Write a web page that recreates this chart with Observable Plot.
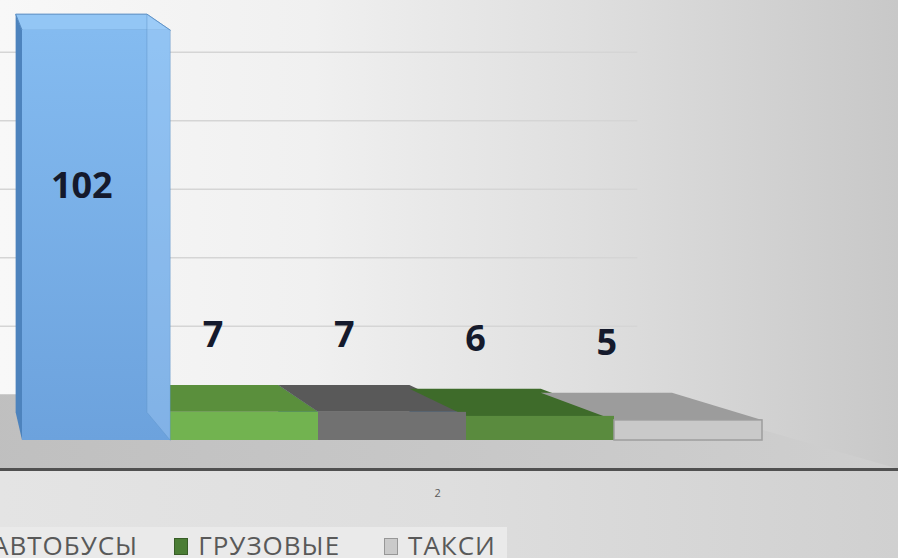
<!DOCTYPE html>
<html>
<head>
<meta charset="utf-8">
<script src="https://cdn.jsdelivr.net/npm/d3@7"></script>
<script src="https://cdn.jsdelivr.net/npm/@observablehq/plot@0.6"></script>
<style>
  html, body { margin: 0; padding: 0; width: 898px; height: 558px; overflow: hidden; }
  #root { position: relative; width: 898px; height: 558px; overflow: hidden;
    background: linear-gradient(to right, #f8f8f8 0%, #f0f0f0 35%, #dfdfdf 65%, #c8c8c8 100%); }
  #lower { position: absolute; left: 0; top: 470px; width: 898px; height: 88px;
    background: linear-gradient(to right, #e4e4e4 0%, #dedede 50%, #d0d0d0 100%); }
  #chart { position: absolute; left: 0; top: 0; }
  #chart svg { overflow: hidden; display: block; }
  #legend { position: absolute; left: 0; top: 527px; width: 507px; height: 31px; background: #eaeaea; overflow: hidden; }
  #legend .row { position: absolute; left: -32px; top: 0; height: 31px; display: flex; align-items: flex-start; gap: 44px; white-space: nowrap; }
  #legend .item { display: flex; align-items: flex-start; gap: 10px; }
  #legend .item:first-child { margin-right: -8px; }
  #legend .sw { width: 14px; height: 17px; margin-top: 11px; box-sizing: border-box; border: 1px solid rgba(0,0,0,0.25); }
  #legend .lab { font-family: "Open Sans", sans-serif; font-size: 26px; letter-spacing: 1px; color: #595959; line-height: 24px; margin-top: 6px; }
</style>
</head>
<body>
<div id="root">
  <div id="lower"></div>
  <div id="chart"></div>
  <div id="legend"><div class="row" id="legendRow"></div></div>
</div>
<script>
// ---- data ----
const category = "2";
// the first two legend entries are cropped out of the picture, so their names are unknown
const seriesNames = [null, null, "АВТОБУСЫ", "ГРУЗОВЫЕ", "ТАКСИ"];
const seriesValues = [102, 7, 7, 6, 5];
const gridValues = [20, 40, 60, 80, 100];

// ---- styles ----
const frontColors = ["url(#blueFront)", "#72b350", "#717171", "#5a8b3e", "#c9c9c9"];
const topColors = ["#93c6f5", "#5a8f3c", "#595959", "#3e6b2a", "#9c9c9c"];
const topStrokes = ["#5288c0", "none", "none", "none", "none"];
const frontStrokes = ["none", "none", "none", "none", "#9d9d9d"];
const legendColors = ["#78aee6", "#72b350", "#717171", "#4b7d35", "#cacaca"];

// ---- 3D projection (style constants, in scale units) ----
const barBack = {sx: 0.887, ox: -0.043, sy: 0.971, oy: 6.9};
const wall = {sx: 0.796, ox: -0.077, sy: 0.852, oy: 11.4};
const floorFront = {sx: 1.106, ox: 0.04, y: -7.2};
const floorSpan = [-0.32, seriesValues.length + 0.32];
const bx = x => barBack.sx * x + barBack.ox;
const by = v => barBack.sy * v + barBack.oy;
const wx = x => wall.sx * x + wall.ox;
const wy = v => wall.sy * v + wall.oy;
const fx = x => floorFront.sx * x + floorFront.ox;

const bars = seriesValues.map((v, i) => ({i, name: seriesNames[i], v, x1: i, x2: i + 1}));
const topFaces = bars.flatMap(b => [
  {i: b.i, y: b.v, x1: b.x1, x2: b.x2},
  {i: b.i, y: by(b.v), x1: bx(b.x1), x2: bx(b.x2)}
]);
const leftFaces = bars.flatMap(b => [
  {i: b.i, x: b.x1, y1: 0, y2: b.v},
  {i: b.i, x: bx(b.x1), y1: by(0), y2: by(b.v)}
]);
const rightFaceBlue = [
  {x: bars[0].x2, y1: 0, y2: bars[0].v},
  {x: bx(bars[0].x2), y1: by(0), y2: by(bars[0].v)}
];
const floorPoly = [
  {y: wy(0), x1: wx(floorSpan[0]), x2: wx(floorSpan[1])},
  {y: floorFront.y, x1: fx(floorSpan[0]), x2: fx(floorSpan[1])}
];

const defs = () => {
  const d = d3.create("svg:defs");
  const g = d.append("linearGradient").attr("id", "blueFront").attr("x1", 0).attr("y1", 0).attr("x2", 0).attr("y2", 1);
  g.append("stop").attr("offset", "0%").attr("stop-color", "#84bbf0");
  g.append("stop").attr("offset", "100%").attr("stop-color", "#6ca2dd");
  const f = d.append("linearGradient").attr("id", "floorGrad").attr("x1", 0).attr("y1", 0).attr("x2", 1).attr("y2", 0);
  f.append("stop").attr("offset", "0%").attr("stop-color", "#bfbfbf");
  f.append("stop").attr("offset", "100%").attr("stop-color", "#cfcfcf");
  return d.node();
};

const chart = Plot.plot({
  width: 898,
  height: 526,
  margin: 0,
  style: {background: "transparent", overflow: "hidden"},
  x: {type: "linear", domain: [0, seriesValues.length], range: [22, 762], axis: null},
  y: {type: "linear", domain: [0, 102], range: [440, 30], axis: null},
  color: {type: "identity"},
  marks: [
    defs,
    Plot.ruleY(gridValues, {y: v => wy(v), x1: wx(floorSpan[0]), x2: wx(floorSpan[1]), stroke: "#d5d5d5", strokeWidth: 1.5}),
    Plot.areaX(floorPoly, {y: "y", x1: "x1", x2: "x2", fill: "url(#floorGrad)"}),
    Plot.ruleY([floorFront.y], {x1: fx(floorSpan[0]), x2: fx(floorSpan[1]), stroke: "#505050", strokeWidth: 3}),
    Plot.areaY(leftFaces, {x: "x", y1: "y1", y2: "y2", z: "i", fill: "#4d83bd"}),
    Plot.areaX(topFaces, {y: "y", x1: "x1", x2: "x2", z: "i", fill: d => topColors[d.i], stroke: d => topStrokes[d.i], strokeWidth: 1}),
    Plot.rect(bars, {x1: "x1", x2: "x2", y1: 0, y2: "v", fill: d => frontColors[d.i], stroke: d => frontStrokes[d.i], strokeWidth: 1.5}),
    Plot.areaY(rightFaceBlue, {x: "x", y1: "y1", y2: "y2", fill: "#b3d8fb", fillOpacity: 0.3, stroke: "#5f95cc", strokeOpacity: 0.5, strokeWidth: 1}),
    Plot.text(bars.filter(b => b.v >= 50), {x: b => (bx(b.x1) + bx(b.x2)) / 2, y: b => b.v * 0.62, text: b => String(b.v),
      fontFamily: "Open Sans", fontWeight: "bold", fontSize: 36, fill: "#151a2c"}),
    Plot.text(bars.filter(b => b.v < 50), {x: b => (bx(b.x1) + bx(b.x2)) / 2, y: b => by(b.v), dy: -50, text: b => String(b.v),
      fontFamily: "Open Sans", fontWeight: "bold", fontSize: 36, fill: "#151a2c"}),
    Plot.text([category], {x: fx(seriesValues.length / 2), y: floorFront.y, dy: 24, text: d => d,
      fontFamily: "Open Sans", fontSize: 11, fill: "#595959"})
  ]
});
document.getElementById("chart").appendChild(chart);

// legend (only the entries that are visible in the picture)
const row = document.getElementById("legendRow");
seriesNames.forEach((name, i) => {
  if (name == null) return;
  const item = document.createElement("div");
  item.className = "item";
  const sw = document.createElement("div");
  sw.className = "sw";
  sw.style.background = legendColors[i];
  const lab = document.createElement("span");
  lab.className = "lab";
  lab.textContent = name;
  item.appendChild(sw);
  item.appendChild(lab);
  row.appendChild(item);
});
</script>
</body>
</html>
